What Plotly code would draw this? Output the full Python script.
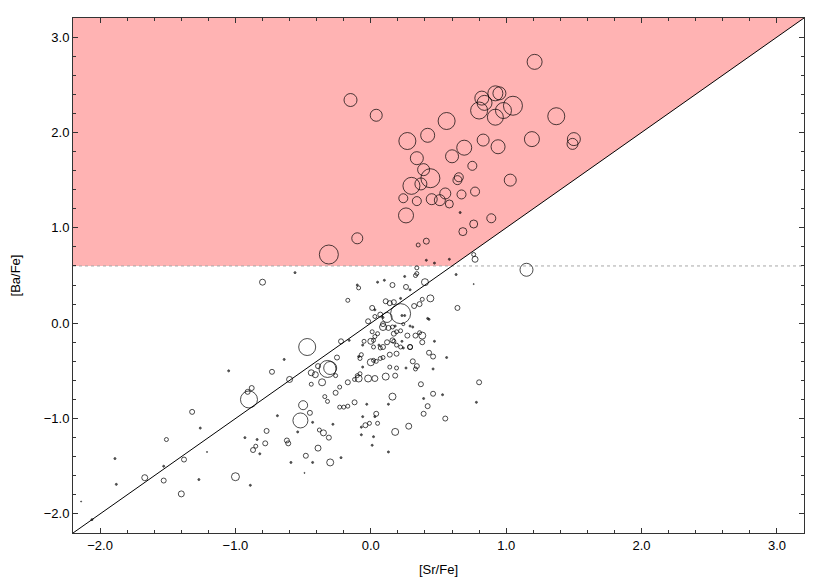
import plotly.graph_objects as go

# [Sr/Fe], [Ba/Fe] and symbol size for every star
sr_fe = [
    # s-process enriched group (pink region)
    1.21, -0.15, 0.04, 0.82, 0.92, 0.95, 0.84, 0.80, 1.05, 0.98, 0.92, 1.37, 0.56, 0.27, 0.42,
    0.83, 0.94, 1.19, 1.50, 1.49, 0.69, 0.60, 0.34, 0.75, 0.39, 0.44, 0.30, 0.37, 0.65, 0.64,
    1.03, 0.24, 0.34, 0.45, 0.51, 0.55, 0.58, 0.67, 0.77, 0.26, 0.89, 0.76, 0.68, -0.10, -0.31,
    0.41, 0.35, 0.66, 0.41, 0.47, 0.58, 0.77, 0.76, 1.15, 0.34, 0.63, 0.76,
    # normal stars
    -0.56, -0.80, -0.09, -0.10, 0.05, 0.10, 0.16, 0.25, 0.34, 0.26, 0.40, 0.44, 0.64, -0.17, 0.11,
    0.14, 0.17, 0.22, 0.29, 0.01, 0.22, 0.12, 0.32, 0.36, 0.38, -0.02, 0.07, 0.03, 0.42, 0.09,
    -0.47, -0.22, -0.16, 0.00, -0.05, 0.05, 0.03, 0.02, 0.29, 0.38, 0.38, 0.47, 0.27, 0.33, 0.17,
    0.19, 0.22, 0.16, 0.17, 0.19, 0.12, 0.09, 0.07, 0.29, 0.43, 0.18, 0.29, 0.31, -0.25, -0.32,
    -0.30, -0.39, -0.44, -0.41, -0.26, -0.60, -0.73, -0.64, -1.05, -0.36, -0.44, -0.17, -0.23, -0.09, -0.02,
    0.03, 0.11, 0.18, -0.12, -0.10, -0.08, -0.06, 0.00, 0.04, 0.07, 0.09, 0.02, 0.14, 0.19, 0.26,
    0.14, 0.19, 0.31, 0.34, 0.33, 0.37, 0.43, 0.46, 0.56, 0.46, -0.88, -0.91, -0.90, -1.26, -0.69,
    -0.52, -0.50, -0.45, -0.43, -0.54, -0.77, -0.38, -0.35, -0.31, -0.28, -0.34, -0.32, -0.26, -0.23, -0.20,
    -0.17, -0.12, -0.03, -0.06, 0.04, -0.07, -0.04, -0.01, 0.05, 0.13, 0.16, 0.18, 0.28, 0.42, 0.39,
    0.46, 0.53, 0.55, 0.80, 0.78, 0.13, 0.02, 0.01, -0.07, -0.48, -0.39, -0.30, -0.22, -0.43, -0.59,
    -0.62, -0.61, -0.78, -0.82, -0.87, -0.85, -0.84, -0.93, -1.00, -0.89, -0.49, -1.32, -1.51, -1.38, -1.53,
    -1.67, -1.53, -1.40, -1.89, -1.88, -1.27, -2.06, -2.14, -1.21, 0.33, 0.01, 0.13, 0.16, 0.09, 0.23,
    0.24, 0.25, 0.03, 0.09, 0.36, -0.07, -0.09, -0.08, -0.06, 0.03, 0.23, 0.22, 0.24, 0.02, 0.06,
    0.39,
]
ba_fe = [
    2.74, 2.34, 2.18, 2.36, 2.41, 2.41, 2.31, 2.23, 2.28, 2.23, 2.16, 2.17, 2.12, 1.91, 1.97,
    1.92, 1.85, 1.93, 1.93, 1.88, 1.84, 1.75, 1.73, 1.65, 1.61, 1.52, 1.44, 1.46, 1.53, 1.50,
    1.50, 1.31, 1.28, 1.30, 1.29, 1.36, 1.25, 1.35, 1.38, 1.13, 1.10, 1.04, 0.96, 0.89, 0.72,
    0.86, 0.82, 1.16, 0.66, 0.63, 0.67, 0.67, 0.72, 0.56, 0.58, 0.51, 0.41,
    0.53, 0.43, 0.37, 0.40, 0.43, 0.45, 0.40, 0.49, 0.52, 0.38, 0.43, 0.26, 0.16, 0.24, 0.23,
    0.21, 0.22, 0.26, 0.35, 0.16, 0.10, 0.06, 0.18, 0.20, 0.25, 0.02, 0.09, 0.07, 0.05, -0.04,
    -0.25, -0.19, -0.18, -0.19, -0.19, -0.11, -0.14, -0.18, -0.25, -0.13, -0.20, -0.19, -0.13, -0.13, -0.11,
    -0.09, -0.08, -0.18, -0.19, -0.23, -0.20, -0.25, -0.26, -0.25, 0.04, -0.03, -0.03, -0.04, -0.36, -0.48,
    -0.47, -0.45, -0.52, -0.54, -0.55, -0.59, -0.51, -0.38, -0.50, -0.62, -0.64, -0.62, -0.67, -0.58, -0.58,
    -0.58, -0.56, -0.55, -0.59, -0.55, -0.53, -0.46, -0.41, -0.40, -0.37, -0.36, -0.39, -0.46, -0.47, -0.47,
    -0.33, -0.32, -0.40, -0.45, -0.48, -0.64, -0.31, -0.35, -0.36, -0.48, -0.68, -0.72, -0.80, -1.10, -0.97,
    -1.02, -0.86, -0.94, -1.04, -1.14, -1.13, -1.12, -1.15, -1.20, -1.06, -0.77, -0.82, -0.73, -0.88, -0.88,
    -0.87, -0.83, -0.85, -0.98, -0.95, -1.09, -1.07, -1.05, -1.05, -0.85, -0.77, -1.14, -1.08, -0.87, -0.95,
    -0.74, -0.75, -1.00, -0.62, -0.83, -1.35, -1.19, -1.28, -1.17, -1.39, -1.31, -1.46, -1.41, -1.46, -1.46,
    -1.23, -1.26, -1.26, -1.37, -1.33, -1.29, -1.22, -1.20, -1.61, -1.70, -1.57, -0.93, -1.22, -1.43, -1.50,
    -1.62, -1.65, -1.79, -1.42, -1.69, -1.64, -2.06, -1.87, -1.35, 0.50, -0.09, -0.05, -0.04, -0.01, 0.08,
    -0.01, 0.08, 0.14, 0.06, -0.10, -0.33, -0.35, -0.37, -0.23, -0.98, -0.19, -0.25, -0.26, -0.25, -0.23,
    -0.79,
]
sym_size = [
    15, 13, 12, 14, 15, 13, 15, 17, 19, 16, 16, 17, 17, 17, 14,
    12, 14, 15, 13, 11, 15, 13, 13, 9, 12, 19, 17, 12, 9, 9,
    12, 9, 9, 11, 11, 11, 8, 9, 9, 15, 9, 8, 8, 11, 19,
    6, 4, 2, 2, 2, 2, 6, 4, 13, 4, 2, 1,
    2, 6, 4, 2, 2, 2, 5, 2, 4, 5, 7, 7, 5, 4, 5,
    5, 5, 2, 2, 5, 20, 10, 5, 5, 4, 5, 5, 4, 2, 7,
    17, 5, 2, 6, 4, 4, 4, 4, 5, 7, 5, 2, 5, 5, 5,
    4, 4, 5, 4, 4, 5, 5, 4, 5, 2, 2, 2, 2, 5, 17,
    13, 5, 6, 6, 4, 6, 5, 2, 2, 7, 4, 5, 4, 7, 7,
    6, 7, 5, 4, 4, 4, 2, 7, 4, 4, 4, 4, 4, 4, 2,
    5, 5, 5, 5, 4, 5, 5, 5, 2, 2, 5, 5, 17, 2, 2,
    15, 9, 5, 2, 2, 5, 4, 6, 5, 2, 4, 4, 5, 4, 4,
    4, 5, 2, 2, 5, 2, 5, 4, 4, 2, 7, 7, 6, 5, 5,
    5, 2, 5, 5, 2, 2, 2, 2, 2, 5, 6, 7, 2, 2, 2,
    5, 5, 5, 2, 5, 4, 2, 2, 8, 2, 1, 5, 4, 5, 2,
    6, 5, 6, 2, 2, 2, 2, 1, 1, 4, 4, 5, 4, 5, 2,
    3, 2, 2, 2, 4, 4, 2, 4, 2, 2, 2, 4, 2, 4, 2,
    2,
]

x_lim = [-2.2, 3.2]
y_lim = [-2.2, 3.2]
ba_cut = 0.6   # [Ba/Fe] threshold

fig = go.Figure()

# shaded region: [Ba/Fe] > 0.6 and [Ba/Fe] > [Sr/Fe]
fig.add_trace(go.Scatter(
    x=[x_lim[0], ba_cut, x_lim[1], x_lim[0], x_lim[0]],
    y=[ba_cut, ba_cut, y_lim[1], y_lim[1], ba_cut],
    fill='toself', fillcolor='#ffb3b3', line=dict(width=0),
    mode='lines', hoverinfo='skip', showlegend=False,
))

# dotted threshold
fig.add_trace(go.Scatter(
    x=x_lim, y=[ba_cut, ba_cut], mode='lines',
    line=dict(color='#a8a8a8', width=1, dash='dot'),
    hoverinfo='skip', showlegend=False,
))

# one-to-one line
fig.add_trace(go.Scatter(
    x=x_lim, y=y_lim, mode='lines',
    line=dict(color='black', width=1),
    hoverinfo='skip', showlegend=False,
))

# the tiniest symbols show up as dots
symbols = ['circle' if s <= 2 else 'circle-open' for s in sym_size]
fig.add_trace(go.Scatter(
    x=sr_fe, y=ba_fe, mode='markers',
    marker=dict(symbol=symbols, size=sym_size, color='black',
                line=dict(width=1, color='black')),
    showlegend=False,
))

axis_common = dict(
    showgrid=False, zeroline=False, automargin=False,
    showline=True, linecolor='#333', linewidth=1, mirror='ticks',
    ticks='inside', ticklen=5, tickcolor='#333', tickwidth=1,
    dtick=1.0, tick0=0, tickformat='.1f',
    minor=dict(ticks='inside', ticklen=3, dtick=0.2, tickcolor='#333'),
    tickfont=dict(family='Liberation Sans, Arial, sans-serif', size=13, color='black'),
    title_font=dict(family='Liberation Sans, Arial, sans-serif', size=13, color='black'),
)

# page body adds an 8px offset, so the figure is a little smaller than the window
fig.update_layout(
    width=822, height=573,
    margin=dict(l=65, r=26, t=10, b=48),
    plot_bgcolor='white', paper_bgcolor='white',
    xaxis=dict(range=x_lim, title=dict(text='[Sr/Fe]', standoff=13), **axis_common),
    yaxis=dict(range=y_lim, title=dict(text='[Ba/Fe]', standoff=24), **axis_common),
)

fig.write_html("out.html")
